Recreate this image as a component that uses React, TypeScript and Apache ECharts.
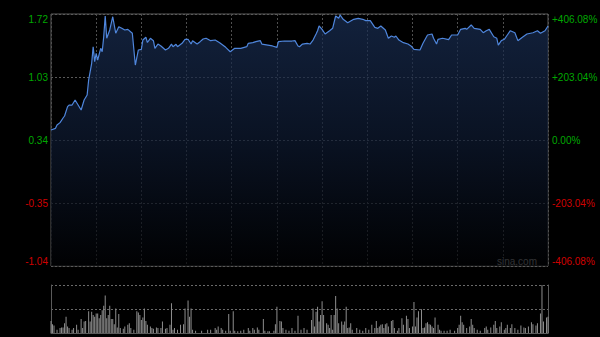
import React, { useEffect, useRef } from "react";
import * as echarts from "echarts";

// Intraday minute index (0 = 09:30, 150 = 12:00/13:00, 330 = 16:00)
const lineMinutes = [0, 3, 4, 6, 8, 9, 11, 12, 14, 16, 18, 20, 22, 24, 25, 27, 28, 29, 30, 31, 33, 34, 35, 36, 37, 39, 41, 43, 45, 47, 49, 51, 54, 56, 58, 60, 61, 63, 64, 66, 68, 69, 71, 73, 76, 78, 80, 81, 83, 84, 87, 89, 91, 93, 94, 97, 99, 101, 103, 106, 109, 112, 116, 119, 122, 126, 130, 131, 134, 136, 139, 140, 144, 147, 150, 151, 155, 160, 162, 164, 165, 167, 170, 172, 174, 176, 177, 178, 180, 182, 185, 187, 189, 191, 192, 194, 197, 201, 204, 207, 209, 212, 215, 217, 219, 222, 224, 226, 228, 229, 231, 234, 237, 239, 241, 245, 247, 250, 253, 254, 256, 257, 260, 264, 266, 270, 272, 275, 276, 279, 281, 285, 287, 289, 291, 294, 296, 297, 299, 301, 303, 305, 308, 310, 313, 316, 320, 323, 325, 328, 330];
const linePrices = [0.450, 0.468, 0.504, 0.530, 0.581, 0.603, 0.705, 0.723, 0.723, 0.778, 0.723, 0.669, 0.778, 0.833, 0.997, 1.180, 1.362, 1.198, 1.290, 1.216, 1.344, 1.307, 1.471, 1.698, 1.454, 1.545, 1.690, 1.509, 1.581, 1.563, 1.545, 1.552, 1.509, 1.161, 1.326, 1.333, 1.435, 1.465, 1.408, 1.454, 1.428, 1.344, 1.391, 1.370, 1.326, 1.344, 1.391, 1.362, 1.388, 1.362, 1.399, 1.443, 1.443, 1.391, 1.428, 1.391, 1.417, 1.446, 1.454, 1.428, 1.435, 1.406, 1.355, 1.307, 1.344, 1.344, 1.362, 1.399, 1.406, 1.417, 1.428, 1.391, 1.380, 1.370, 1.355, 1.417, 1.424, 1.424, 1.428, 1.370, 1.362, 1.391, 1.399, 1.391, 1.435, 1.501, 1.537, 1.589, 1.552, 1.501, 1.537, 1.563, 1.698, 1.673, 1.709, 1.662, 1.625, 1.662, 1.673, 1.662, 1.647, 1.647, 1.574, 1.563, 1.589, 1.545, 1.454, 1.479, 1.465, 1.479, 1.435, 1.406, 1.391, 1.370, 1.333, 1.326, 1.399, 1.490, 1.501, 1.454, 1.391, 1.443, 1.454, 1.440, 1.490, 1.490, 1.552, 1.563, 1.552, 1.600, 1.563, 1.552, 1.515, 1.537, 1.552, 1.471, 1.454, 1.380, 1.428, 1.443, 1.490, 1.537, 1.515, 1.428, 1.465, 1.501, 1.515, 1.537, 1.509, 1.537, 1.589];

const volMinutes = [0, 1, 2, 4, 6, 7, 8, 9, 10, 11, 12, 14, 15, 17, 18, 20, 21, 22, 23, 25, 26, 27, 28, 29, 30, 31, 32, 33, 34, 35, 36, 37, 38, 39, 40, 41, 42, 43, 44, 45, 46, 48, 49, 51, 52, 53, 55, 57, 58, 59, 60, 61, 62, 63, 64, 66, 67, 68, 70, 71, 73, 74, 76, 77, 79, 80, 81, 82, 84, 86, 88, 89, 91, 92, 93, 94, 96, 100, 104, 106, 109, 110, 111, 113, 114, 116, 118, 119, 121, 122, 124, 126, 128, 131, 132, 134, 135, 137, 138, 141, 142, 144, 145, 148, 149, 150, 152, 153, 154, 156, 158, 160, 162, 164, 166, 168, 170, 173, 174, 175, 176, 177, 178, 179, 180, 181, 183, 184, 185, 186, 187, 188, 189, 190, 191, 193, 194, 195, 196, 197, 198, 199, 200, 203, 205, 207, 209, 211, 213, 215, 216, 217, 218, 219, 220, 221, 222, 223, 224, 226, 227, 228, 230, 231, 233, 234, 236, 237, 238, 240, 241, 242, 243, 244, 246, 247, 248, 249, 250, 251, 252, 253, 254, 255, 257, 258, 259, 261, 263, 265, 268, 270, 271, 272, 273, 274, 276, 278, 279, 280, 281, 283, 285, 288, 289, 290, 292, 294, 295, 296, 298, 299, 301, 302, 303, 305, 306, 308, 310, 312, 314, 315, 317, 319, 320, 322, 323, 325, 326, 327, 329, 330];
const volValues = [12.3, 9, 7.7, 3.3, 5, 5.7, 5.7, 10, 16.7, 6.7, 5, 3.3, 5, 8.3, 3.3, 14.3, 5, 11.7, 12.3, 22.3, 11.7, 21.7, 18.3, 16.7, 20, 20, 15, 18.3, 23.3, 27.7, 38.3, 15, 18.3, 27.7, 14.3, 14.3, 9, 25, 5.7, 19.3, 5, 4.3, 6.7, 8.3, 10, 5, 3.3, 22.3, 21, 18.3, 13.3, 15.7, 25, 12.3, 8.3, 6.7, 5, 4.3, 5.7, 5, 5, 11.7, 4.3, 5, 8.3, 30.3, 3.3, 5, 3.3, 8.3, 9, 25, 33.3, 16.7, 25, 3.3, 2.3, 2.3, 3.3, 3.3, 5, 3.3, 6.7, 5, 3.3, 2.3, 19.3, 2.3, 22.3, 2.3, 1.7, 2.3, 3.3, 5, 2.3, 5, 3.3, 5.7, 3.3, 14.3, 2.3, 1.7, 1.7, 2.3, 9, 26.7, 12.3, 11.7, 5, 3.3, 2.3, 5, 2.3, 17.7, 3.3, 5, 3.3, 13.3, 25, 6.7, 21.7, 26.7, 11.7, 18.3, 32.3, 18.3, 10, 8.3, 5, 18.3, 3.3, 18.3, 37.7, 25, 10, 11.7, 8.3, 11.7, 26.7, 5, 5.7, 10, 3.3, 5, 3.3, 2.3, 5, 3.3, 8.3, 5, 12.3, 5, 6.7, 8.3, 9, 5, 9, 10, 6.7, 12.3, 13.3, 5, 2.3, 5, 15, 8.3, 17.7, 14.3, 5, 6.7, 31.7, 6.7, 15.7, 22.3, 24.3, 5, 5.7, 10, 11, 9, 8.3, 6.7, 5, 15.7, 8.3, 3.3, 2.3, 2.3, 2.3, 3.3, 2.3, 5, 8.3, 17.7, 11, 8.3, 5, 6.7, 14.3, 8.3, 5, 3.3, 2.3, 5, 6.7, 3.3, 5.7, 8.3, 12.3, 5, 6.7, 11, 3.3, 5, 8.3, 5, 9, 5, 3.3, 7.7, 5.7, 5, 6.7, 11, 9, 7.7, 10, 20, 49, 11.7, 15.7, 16.7];

const prevClose = 0.34;
const priceTicks = [-1.04, -0.35, 0.34, 1.03, 1.72];
const pctTicks = [-406.08, -203.04, 0, 203.04, 406.08];

const GREEN = "#00a800";
const RED = "#d00000";
const FONT = "'Liberation Sans', Arial, sans-serif";

export default function App() {
  const ref = useRef<HTMLDivElement>(null);

  useEffect(() => {
    if (!ref.current) return;
    const chart = echarts.init(ref.current, null, { renderer: "svg" });
    const lineData = lineMinutes.map((m, i) => [m, linePrices[i]]);
    const volData = volMinutes.map((m, i) => [m, volValues[i]]);
    const pInt = +(priceTicks[1] - priceTicks[0]).toFixed(2);
    const qInt = pctTicks[1] - pctTicks[0];

    chart.setOption({
      animation: false,
      backgroundColor: "#000000",
      textStyle: { fontFamily: FONT },
      grid: [
        { left: 51, right: 52, top: 14, height: 252, show: true, borderColor: "#5a5a5a", borderWidth: 1, backgroundColor: "transparent", containLabel: false, outerBoundsMode: "none" },
        { left: 51, right: 52, top: 285, height: 48, show: false, containLabel: false, outerBoundsMode: "none" },
      ],
      xAxis: [
        {
          type: "value", gridIndex: 0, min: 0, max: 330, interval: 30,
          axisLine: { show: false }, axisTick: { show: false }, axisLabel: { show: false },
          splitLine: { show: true, lineStyle: { color: "#4f4f4f", type: [2, 2], width: 1 } },
        },
        {
          type: "value", gridIndex: 1, min: 0, max: 330, interval: 30,
          axisLine: { show: true, lineStyle: { color: "#5a5a5a" } }, axisTick: { show: false }, axisLabel: { show: false },
          splitLine: { show: false },
        },
      ],
      yAxis: [
        {
          type: "value", gridIndex: 0, min: priceTicks[0], max: priceTicks[4], interval: pInt,
          axisLine: { show: false }, axisTick: { show: false },
          axisLabel: {
            margin: 3, fontSize: 10, fontFamily: FONT,
            formatter: (v: number) => v.toFixed(2),
            color: (v: any) => (Number(v) >= prevClose - 1e-6 ? GREEN : RED),
            verticalAlignMaxLabel: "top", verticalAlignMinLabel: "bottom",
          },
          splitLine: { show: true, lineStyle: { color: "#5a5a5a", type: [2, 2], width: 1 } },
        },
        {
          type: "value", gridIndex: 0, position: "right", min: pctTicks[0], max: pctTicks[4], interval: qInt,
          axisLine: { show: false }, axisTick: { show: false },
          axisLabel: {
            margin: 4, fontSize: 10, fontFamily: FONT,
            formatter: (v: number) => (Math.abs(v) < 1e-6 ? "0.00%" : (v > 0 ? "+" : "") + v.toFixed(2) + "%"),
            color: (v: any) => (Number(v) >= -1e-6 ? GREEN : RED),
            verticalAlignMaxLabel: "top", verticalAlignMinLabel: "bottom",
          },
          splitLine: { show: false },
        },
        {
          type: "value", gridIndex: 1, min: 0, max: 49, interval: 24.5,
          axisLine: { show: true, lineStyle: { color: "#5a5a5a" } }, axisTick: { show: false }, axisLabel: { show: false },
          splitLine: { show: true, lineStyle: { color: "#6a6a6a", type: [2, 2], width: 1 } },
        },
        {
          type: "value", gridIndex: 1, position: "right", min: 0, max: 49, interval: 24.5,
          axisLine: { show: true, lineStyle: { color: "#5a5a5a" } }, axisTick: { show: false }, axisLabel: { show: false },
          splitLine: { show: false },
        },
      ],
      series: [
        {
          type: "line", xAxisIndex: 0, yAxisIndex: 0, data: lineData, showSymbol: false, symbol: "none",
          lineStyle: { color: "#4f86dc", width: 1.2 },
          areaStyle: {
            origin: "start",
            color: new echarts.graphic.LinearGradient(0, 0, 0, 1, [
              { offset: 0, color: "#1a2f55" },
              { offset: 0.5, color: "#0e1a31" },
              { offset: 1, color: "#010204" },
            ]),
          },
          z: 3,
        },
        {
          type: "bar", xAxisIndex: 1, yAxisIndex: 2, data: volData, barWidth: 1,
          itemStyle: { color: "#8e8e8e" },
        },
      ],
      graphic: [
        {
          type: "text", right: 63, top: 256,
          style: { text: "sina.com", fill: "#a0a0a0", font: `10px ${FONT}` },
        },
      ],
    });
    return () => chart.dispose();
  }, []);

  return (
    <div
      ref={ref}
      style={{ position: "fixed", left: 0, top: 0, width: 600, height: 337, background: "#000" }}
    />
  );
}
